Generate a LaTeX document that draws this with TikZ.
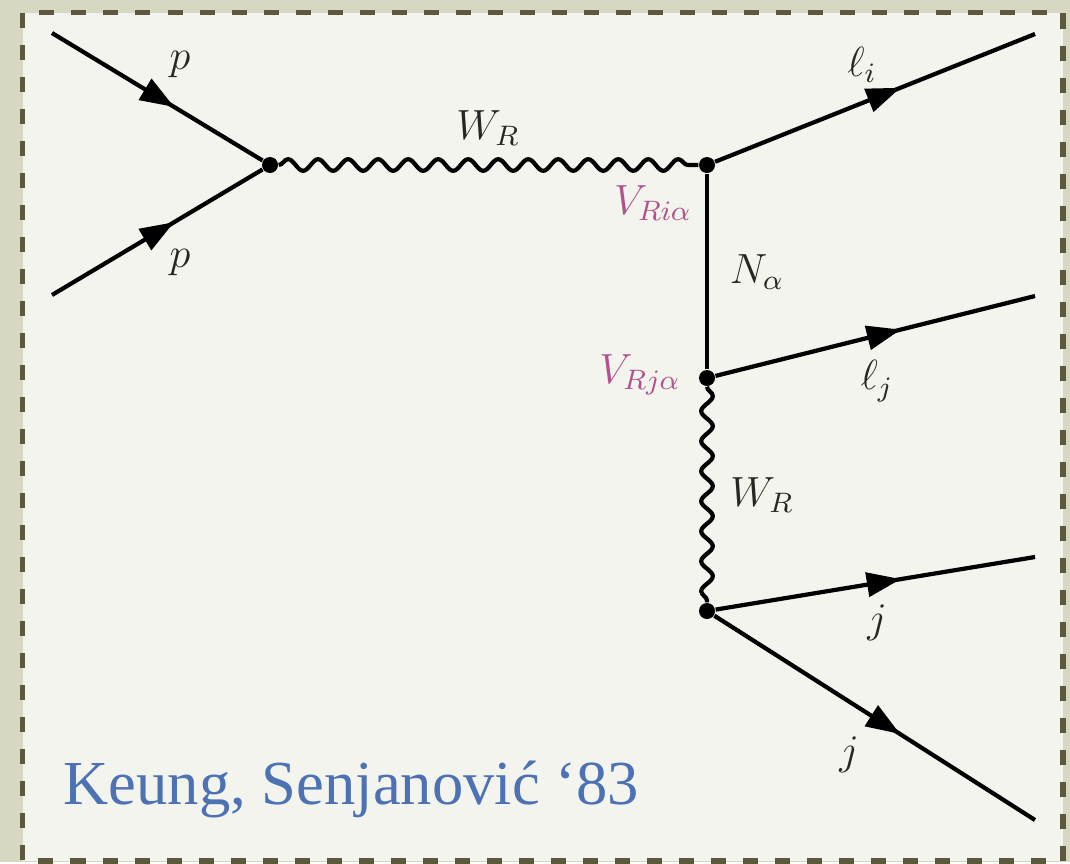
\documentclass[tikz,border=0pt]{standalone}
\usepackage{fontspec}
\newfontfamily\citefont{Liberation Serif}
\usepackage{tikz}
\usetikzlibrary{arrows.meta,decorations.pathmorphing,decorations.markings}
\definecolor{frameout}{RGB}{216,216,194}
\definecolor{framein}{RGB}{244,244,238}
\definecolor{framedash}{RGB}{92,88,62}
\definecolor{vertexpink}{RGB}{178,82,140}
\definecolor{citeblue}{RGB}{76,114,180}

\begin{document}
\begin{tikzpicture}[x=0.01cm, y=-0.01cm,
  dot/.style={circle, fill=black, inner sep=0pt, minimum size=0.16cm},
  plain/.style={line width=1.2pt},
  fermion/.style={plain, postaction={decorate},
    decoration={markings, mark=at position 0.58 with {\arrow{Triangle[length=0.34cm,width=0.24cm]}}}},
  boson/.style={plain, decorate, decoration={snake, amplitude=0.058cm, segment length=0.3cm}},
  lbl/.style={font=\fontsize{11.8}{14}\selectfont, text=black!85},
  vlbl/.style={lbl, text=vertexpink}]

% frame
\fill[frameout] (0,0) rectangle (1070,862);
\filldraw[fill=framein, draw=framedash, line width=1.5pt, dash pattern=on 0.15cm off 0.17cm]
  (22.5,12.5) rectangle (1063,861);
\useasboundingbox (0,0) rectangle (1070,862);

% vertices and external ends
\node[dot] (v1) at (270,165) {};
\node[dot] (v2) at (707,165) {};
\node[dot] (v3) at (707,378) {};
\node[dot] (v4) at (707,611) {};
\coordinate (pa) at (52,33);
\coordinate (pb) at (52,295);
\coordinate (li) at (1035,34);
\coordinate (lj) at (1035,296);
\coordinate (ja) at (1035,557);
\coordinate (jb) at (1035,820);

% propagators
\draw[fermion] (pa) -- (v1);
\draw[fermion] (pb) -- (v1);
\draw[boson] (v1) -- (v2);
\draw[fermion] (v2) -- (li);
\draw[plain] (v2) -- (v3);
\draw[fermion] (v3) -- (lj);
\draw[boson] (v3) -- (v4);
\draw[fermion] (v4) -- (ja);
\draw[fermion] (v4) -- (jb);

% labels
\node[lbl] (lpa) at (180,65) {$p$};
\node[lbl] (lpb) at (180,263) {$p$};
\node[lbl] (lw1) at (488,128) {$W_R$};
\node[lbl] (lli) at (862,65) {$\ell_i$};
\node[vlbl] (lvi) at (653,203) {$V_{Ri\alpha}$};
\node[lbl] (ln) at (757,272) {$N_\alpha$};
\node[vlbl] (lvj) at (640,375) {$V_{Rj\alpha}$};
\node[lbl] (llj) at (877,381) {$\ell_j$};
\node[lbl] (lw2) at (762,495) {$W_R$};
\node[lbl] (lja) at (877,623) {$j$};
\node[lbl] (ljb) at (849,755) {$j$};

\node[anchor=base west, inner sep=0pt, text=citeblue,
  font=\citefont\fontsize{17.8}{22}\selectfont] (cite) at (63,804) {Keung, Senjanović ‘83};
\end{tikzpicture}
\end{document}
